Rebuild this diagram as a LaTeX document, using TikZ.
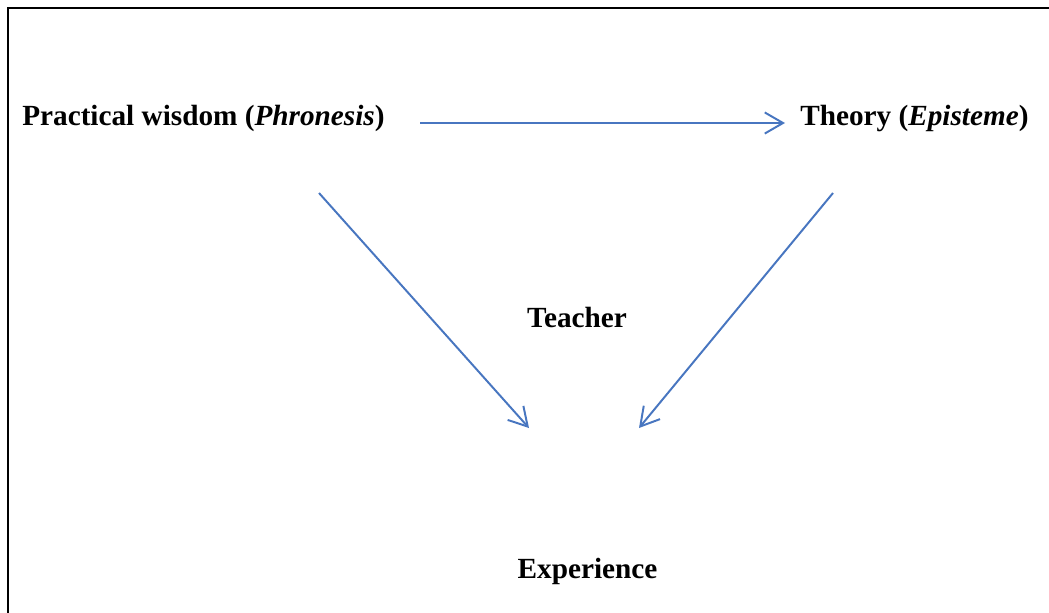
\documentclass[tikz,border=0pt]{standalone}
\usepackage{fontspec}
\setmainfont{Liberation Serif}
\usetikzlibrary{arrows.meta,positioning}
\definecolor{arrowblue}{RGB}{72,118,192}
\tikzset{
	word/.style={inner sep=0pt,font=\fontsize{20.8}{25}\selectfont\bfseries},
	frame/.style={color=black, line width=2pt},
	diredge/.style={-{Straight Barb[width=15pt,length=13pt]},color=arrowblue, line width=1.4pt}
}
\begin{document}
\begin{tikzpicture}[x=0.025cm,y=-0.025cm]
	\useasboundingbox (0,0) rectangle (1049,612);
	\clip (0,0) rectangle (1049,612);
	%%%% frame
	\draw[frame] (8,700) -- (8,8) -- (1100,8);
	
	%%%% labels
	\node[word,anchor=base west] (phron) at (22,125) {Practical wisdom (\textit{Phronesis})};
	\node[word,anchor=base west] (theory) at (800,125) {Theory (\textit{Episteme})};
	\node[word,anchor=base] (teacher) at (577,327) {Teacher};
	\node[word,anchor=base] (exper) at (587.5,578) {Experience};
	
	%%%% arrow ends
	\coordinate (p1) at (420,123);
	\coordinate (t1) at (785,123);
	\coordinate (p2) at (319,193);
	\coordinate (t2) at (833,193);
	\coordinate (e1) at (529,428);
	\coordinate (e2) at (639,428);
	
	\draw[diredge] (p1) -- (t1);
	\draw[diredge] (p2) -- (e1);
	\draw[diredge] (t2) -- (e2);
	
\end{tikzpicture}
\end{document}
